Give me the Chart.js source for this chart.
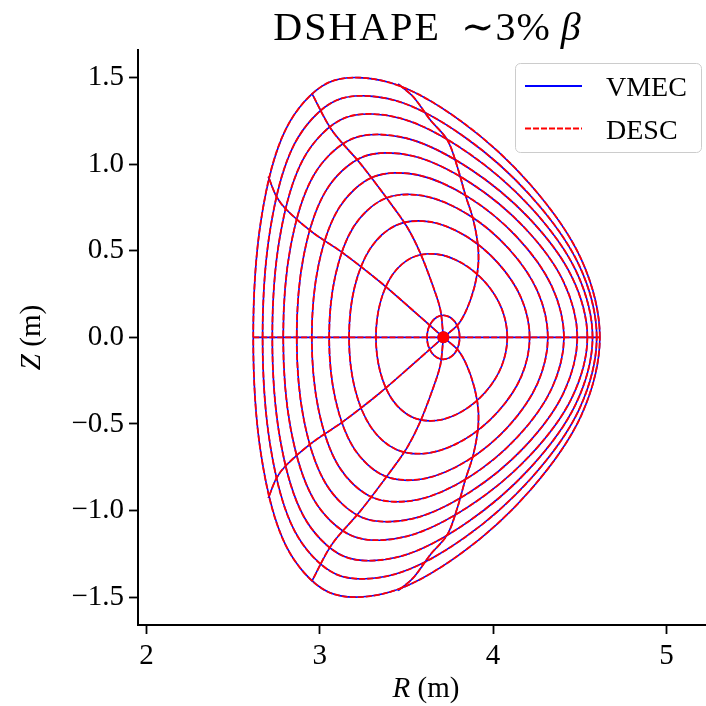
<!DOCTYPE html>
<html>
<head>
<meta charset="utf-8">
<script src="https://cdn.jsdelivr.net/npm/chart.js@4/dist/chart.umd.min.js"></script>
<style>
  html, body { margin: 0; padding: 0; background: #fff; overflow: hidden; width: 706px; height: 706px; }
  canvas { display: block; }
</style>
</head>
<body>
<canvas id="c" width="740" height="706"></canvas>
<script>
// Magnetic axis (m)
const axisR = [3.713];
const axisZ = [0.0];

// Flux surfaces, innermost to boundary. Upper half only (Z >= 0), running from the
// outboard midplane over the top to the inboard midplane; the lower half is the mirror image.
const surfaceR = [
  [3.807, 3.800, 3.780, 3.749, 3.713, 3.677, 3.647, 3.626, 3.619],
  [4.082, 4.049, 3.956, 3.822, 3.673, 3.532, 3.420, 3.349, 3.324],
  [4.211, 4.163, 4.029, 3.840, 3.632, 3.441, 3.293, 3.200, 3.169],
  [4.316, 4.256, 4.089, 3.855, 3.601, 3.372, 3.197, 3.090, 3.054],
  [4.409, 4.337, 4.139, 3.864, 3.569, 3.307, 3.111, 2.993, 2.954],
  [4.486, 4.404, 4.179, 3.868, 3.538, 3.248, 3.035, 2.908, 2.867],
  [4.544, 4.453, 4.206, 3.863, 3.503, 3.192, 2.965, 2.832, 2.789],
  [4.574, 4.477, 4.213, 3.849, 3.469, 3.142, 2.906, 2.770, 2.726],
  [4.598, 4.496, 4.217, 3.835, 3.437, 3.097, 2.854, 2.715, 2.670],
  [4.616, 4.509, 4.217, 3.818, 3.404, 3.052, 2.803, 2.661, 2.616]
];
const surfaceZ = [
  [0, 0.049, 0.090, 0.117, 0.127, 0.117, 0.090, 0.049, 0],
  [0, 0.167, 0.316, 0.427, 0.480, 0.460, 0.362, 0.200, 0],
  [0, 0.225, 0.428, 0.586, 0.667, 0.647, 0.515, 0.286, 0],
  [0, 0.267, 0.513, 0.709, 0.816, 0.799, 0.641, 0.357, 0],
  [0, 0.298, 0.577, 0.805, 0.936, 0.925, 0.747, 0.418, 0],
  [0, 0.326, 0.635, 0.892, 1.046, 1.041, 0.845, 0.475, 0],
  [0, 0.352, 0.689, 0.974, 1.148, 1.148, 0.935, 0.526, 0],
  [0, 0.386, 0.755, 1.069, 1.263, 1.265, 1.031, 0.581, 0],
  [0, 0.417, 0.816, 1.156, 1.366, 1.368, 1.116, 0.629, 0],
  [0, 0.450, 0.879, 1.245, 1.470, 1.471, 1.199, 0.676, 0]
];

// Constant-theta lines, upper half, from the axis out to the boundary
// (theta = 0, pi/4, pi/2, 3pi/4, pi). The lower half is the mirror image.
const thetaR = [
  [3.713, 4.616],
  [3.713, 3.805, 3.869, 3.909, 3.915, 3.886, 3.840, 3.794, 3.736, 3.638, 3.540, 3.452],
  [3.713, 3.696, 3.655, 3.580, 3.503, 3.407, 3.233, 3.069, 2.954],
  [3.713, 3.522, 3.349, 3.136, 2.954, 2.809, 2.751, 2.703],
  [3.713, 2.616]
];
const thetaZ = [
  [0, 0],
  [0, 0.083, 0.215, 0.371, 0.504, 0.677, 0.821, 0.983, 1.139, 1.254, 1.387, 1.462],
  [0, 0.158, 0.290, 0.486, 0.638, 0.775, 1.004, 1.196, 1.408],
  [0, 0.169, 0.319, 0.485, 0.609, 0.735, 0.811, 0.927],
  [0, 0]
];

const xTicks = [2, 3, 4, 5];
const yTicks = [-1.5, -1.0, -0.5, 0.0, 0.5, 1.0, 1.5];

// Axis limits (m); the R axis keeps the same metres-per-pixel as Z (equal aspect)
const rMin = 1.951;
const zMin = -1.66, zMax = 1.658;

const codes = [
  { label: 'VMEC', color: '#0000ff', dash: [], width: 1.6, order: 1 },
  { label: 'DESC', color: '#ff0000', dash: [6, 2], width: 1.8, order: 0 }
];

const SERIF = "'Liberation Serif', 'DejaVu Serif', serif";

// Closed loop from an upper half: add the mirrored lower half and wrap one point
// on each end so the spline is periodic; the two wrap segments are left undrawn.
function closedLoop(Rs, Zs) {
  const pts = Rs.map((r, i) => ({ x: r, y: Zs[i] }));
  for (let i = Rs.length - 2; i >= 1; i--) pts.push({ x: Rs[i], y: -Zs[i] });
  const n = pts.length;
  return [pts[n - 1], ...pts, pts[0], pts[1]];
}

function lineData(Rs, Zs, sign) {
  return Rs.map((r, i) => ({ x: r, y: sign * Zs[i] }));
}

const datasets = [];
codes.forEach(code => {
  const base = {
    showLine: true, pointRadius: 0, borderColor: code.color, borderWidth: code.width,
    borderDash: code.dash, fill: false, order: code.order, tension: 0.33
  };
  surfaceR.forEach((Rs, k) => {
    const data = closedLoop(Rs, surfaceZ[k]);
    const last = data.length - 1;
    datasets.push({
      ...base, label: code.label, data,
      segment: {
        borderColor: c => (c.p0DataIndex === 0 || c.p1DataIndex === last) ? 'rgba(0,0,0,0)' : undefined
      }
    });
  });
  thetaR.forEach((Rs, j) => {
    datasets.push({ ...base, label: code.label, data: lineData(Rs, thetaZ[j], 1) });
    if (j > 0 && j < thetaR.length - 1) {
      datasets.push({ ...base, label: code.label, data: lineData(Rs, thetaZ[j], -1) });
    }
  });
  datasets.push({
    label: code.label, showLine: false, order: code.order,
    data: axisR.map((r, i) => ({ x: r, y: axisZ[i] })),
    pointRadius: 6, pointBorderWidth: 0, pointBackgroundColor: code.color, pointBorderColor: code.color
  });
});

// Draws text made of upright / italic runs
function drawRuns(ctx, runs, size, x, y, align) {
  const fontOf = r => (r.italic ? 'italic ' : '') + size + 'px ' + SERIF;
  const widths = runs.map(r => {
    ctx.font = fontOf(r);
    ctx.letterSpacing = (r.spacing || 0) + 'px';
    return ctx.measureText(r.text).width;
  });
  const total = widths.reduce((a, b) => a + b, 0);
  let cx = align === 'center' ? x - total / 2 : x;
  ctx.textAlign = 'left';
  ctx.textBaseline = 'alphabetic';
  runs.forEach((r, i) => {
    ctx.font = fontOf(r);
    ctx.letterSpacing = (r.spacing || 0) + 'px';
    ctx.fillText(r.text, cx, y);
    cx += widths[i];
  });
  ctx.letterSpacing = '0px';
}

const annotations = {
  id: 'annotations',
  afterDraw(chart) {
    const ctx = chart.ctx;
    ctx.save();
    ctx.fillStyle = '#000';
    // title
    drawRuns(ctx, [
      { text: 'DSHAPE', spacing: 2 }, { text: '  ' },
      { text: '\u223C3%', spacing: 1 }, { text: ' ' }, { text: '\u03B2', italic: true }
    ], 40, 427, 40, 'center');
    // axis titles
    drawRuns(ctx, [{ text: 'R', italic: true }, { text: ' (m)' }], 29, 426, 697, 'center');
    ctx.save();
    ctx.translate(40, 337.5);
    ctx.rotate(-Math.PI / 2);
    drawRuns(ctx, [{ text: 'Z', italic: true }, { text: ' (m)' }], 29, 0, 0, 'center');
    ctx.restore();

    // legend
    const bx = 515.5, by = 63.5, bw = 186, bh = 89;
    ctx.beginPath();
    ctx.roundRect(bx, by, bw, bh, 5);
    ctx.fillStyle = 'rgba(255,255,255,0.8)';
    ctx.fill();
    ctx.strokeStyle = '#cccccc';
    ctx.lineWidth = 1;
    ctx.stroke();
    const rows = [86, 128.5];
    codes.forEach((code, i) => {
      ctx.beginPath();
      ctx.setLineDash(code.dash);
      ctx.strokeStyle = code.color;
      ctx.lineWidth = 2;
      ctx.moveTo(525, rows[i]);
      ctx.lineTo(582, rows[i]);
      ctx.stroke();
      ctx.setLineDash([]);
      ctx.fillStyle = '#000';
      drawRuns(ctx, [{ text: code.label }], 28, 606, rows[i] + 10, 'left');
    });
    ctx.restore();
  }
};

const tickFont = { family: SERIF, size: 29 };
const PX_PER_M = (625 - 50) / (zMax - zMin);

new Chart(document.getElementById('c'), {
  type: 'scatter',
  data: { datasets },
  options: {
    responsive: false,
    animation: false,
    events: [],
    layout: { padding: { top: 50, right: 0, bottom: 0, left: 0 } },
    plugins: { legend: { display: false }, tooltip: { enabled: false }, title: { display: false } },
    scales: {
      x: {
        type: 'linear', bounds: 'data', min: rMin, max: 5.4,
        afterBuildTicks: s => {
          s.ticks = xTicks.map(v => ({ value: v }));
          s.min = rMin;
          s.max = rMin + s.width / PX_PER_M;
        },
        afterFit: s => { s.height = 81; s.paddingLeft = 0; s.paddingRight = 0; },
        ticks: { font: tickFont, color: '#000', padding: 5, autoSkip: false, maxRotation: 0,
                 callback: v => String(v) },
        grid: { drawOnChartArea: false, drawTicks: true, tickLength: 9, tickWidth: 1.8, tickColor: '#000' },
        border: { display: true, color: '#000', width: 2 }
      },
      y: {
        type: 'linear', bounds: 'data', min: zMin, max: zMax,
        afterBuildTicks: s => { s.ticks = yTicks.map(v => ({ value: v })); },
        afterFit: s => { s.width = 138; s.paddingTop = 0; s.paddingBottom = 0; },
        ticks: { font: tickFont, color: '#000', padding: 5, autoSkip: false,
                 callback: v => (v < 0 ? '\u2212' : '') + Math.abs(v).toFixed(1) },
        grid: { drawOnChartArea: false, drawTicks: true, tickLength: 9, tickWidth: 1.8, tickColor: '#000' },
        border: { display: true, color: '#000', width: 2 }
      }
    }
  },
  plugins: [annotations]
});
</script>
</body>
</html>
